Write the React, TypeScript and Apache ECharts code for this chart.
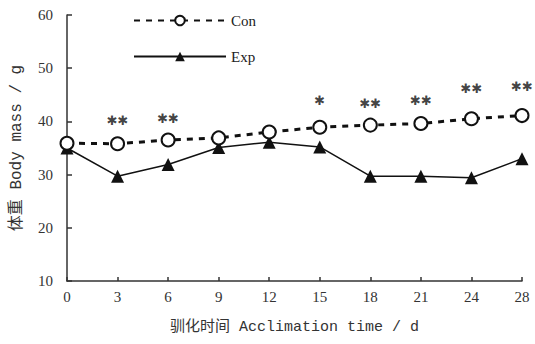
import React, { useEffect, useRef } from "react";
import * as echarts from "echarts";

const days = ["0", "3", "6", "9", "12", "15", "18", "21", "24", "28"];
const conValues = [35.9, 35.8, 36.5, 36.9, 38.0, 38.9, 39.3, 39.6, 40.5, 41.1];
const expValues = [35.0, 29.7, 31.9, 35.1, 36.1, 35.2, 29.7, 29.7, 29.4, 33.0];
const sigDays = ["3", "6", "15", "18", "21", "24", "28"];
const sigY = [40.2, 40.5, 44.0, 43.4, 44.0, 46.2, 46.6];
const sigMarks = ["✱✱", "✱✱", "✱", "✱✱", "✱✱", "✱✱", "✱✱"];

const serif = "'Liberation Serif', 'Noto Sans CJK SC', serif";
const mono = "'Liberation Mono', 'Noto Sans CJK SC', monospace";

export default function App() {
  const ref = useRef<HTMLDivElement>(null);
  useEffect(() => {
    if (!ref.current) return;
    document.body.style.margin = "0";
    const chart = echarts.init(ref.current, undefined, { renderer: "svg" });
    chart.setOption({
      animation: false,
      backgroundColor: "#fff",
      textStyle: { fontFamily: serif, color: "#222" },
      grid: { left: 67, right: 13, top: 15, bottom: 63 },
      legend: {
        orient: "vertical",
        left: 128,
        top: 8,
        itemWidth: 92,
        itemHeight: 12,
        itemGap: 21,
        textStyle: { fontFamily: serif, fontSize: 15, color: "#222" },
        data: ["Con", "Exp"],
      },
      xAxis: {
        type: "category",
        data: days,
        boundaryGap: false,
        name: "驯化时间 Acclimation time / d",
        nameLocation: "middle",
        nameGap: 39,
        nameTextStyle: { fontFamily: mono, fontSize: 15, color: "#333" },
        axisLine: { lineStyle: { color: "#333", width: 1.5 } },
        axisTick: { inside: true, length: 4, alignWithLabel: true, lineStyle: { color: "#333", width: 1.5 } },
        axisLabel: { fontFamily: serif, fontSize: 15, color: "#333", margin: 8 },
        splitLine: { show: false },
      },
      yAxis: {
        type: "value",
        min: 10,
        max: 60,
        interval: 10,
        name: "体重 Body mass / g",
        nameLocation: "middle",
        nameRotate: 90,
        nameGap: 42,
        nameTextStyle: { fontFamily: mono, fontSize: 16, color: "#333" },
        axisLine: { show: true, lineStyle: { color: "#333", width: 1.5 } },
        axisTick: { show: true, inside: true, length: 5, lineStyle: { color: "#333", width: 1.5 } },
        axisLabel: { fontFamily: serif, fontSize: 15, color: "#333", margin: 14 },
        splitLine: { show: false },
      },
      series: [
        {
          name: "Con",
          type: "line",
          data: conValues,
          symbol: "circle",
          symbolSize: 13,
          itemStyle: { color: "#fff", borderColor: "#111", borderWidth: 2 },
          lineStyle: { color: "#111", width: 3, type: [6, 6] },
          z: 3,
        },
        {
          name: "Exp",
          type: "line",
          data: expValues,
          symbol: "triangle",
          symbolSize: 13,
          itemStyle: { color: "#111" },
          lineStyle: { color: "#111", width: 1.5 },
          z: 2,
        },
        {
          name: "sig",
          type: "scatter",
          data: sigDays.map((d, i) => [d, sigY[i], sigMarks[i]]),
          symbolSize: 0,
          silent: true,
          label: {
            show: true,
            position: "inside",
            formatter: (p: any) => p.value[2],
            fontFamily: "'DejaVu Sans', sans-serif",
            fontSize: 13,
            fontWeight: "bold",
            color: "#111",
          },
        },
      ],
    });
    return () => chart.dispose();
  }, []);
  return <div ref={ref} style={{ width: 535, height: 344 }} />;
}
